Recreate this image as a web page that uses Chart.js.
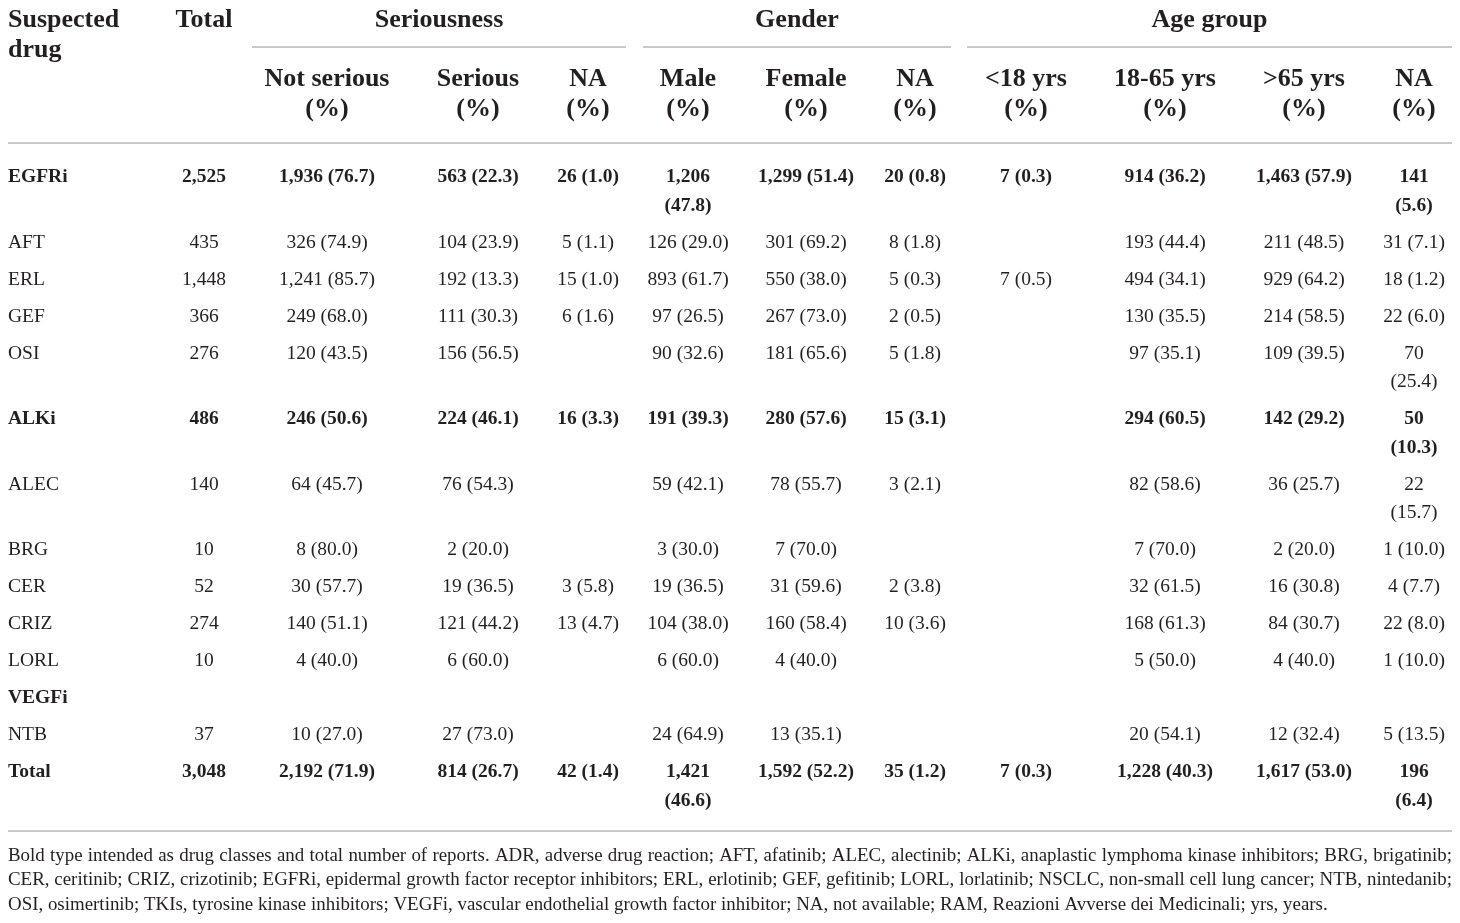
<!DOCTYPE html>
<html lang="en">
  <head>
    <meta charset="UTF-8" />
    <title>Suspected drug reports</title>
    <script src="https://cdn.jsdelivr.net/npm/chart.js@4"></script>
    <style>
      html, body { margin: 0; padding: 0; background: #fff; }
      canvas { display: block; }
    </style>
  </head>
  <body>
    <canvas id="tableChart" width="1460" height="923"></canvas>

    <script>
      // ---- table data ----
      const groupLabels = ["Seriousness", "Gender", "Age group"];
      const colLabels = [
        "Suspected drug", "Total",
        "Not serious (%)", "Serious (%)", "NA (%)",
        "Male (%)", "Female (%)", "NA (%)",
        "<18 yrs (%)", "18-65 yrs (%)", ">65 yrs (%)", "NA (%)",
      ];
      const drugs = ["EGFRi", "AFT", "ERL", "GEF", "OSI", "ALKi", "ALEC", "BRG", "CER", "CRIZ", "LORL", "VEGFi", "NTB", "Total"];
      const boldRow = [true, false, false, false, false, true, false, false, false, false, false, true, false, true];
      const totals = ["2,525", "435", "1,448", "366", "276", "486", "140", "10", "52", "274", "10", "", "37", "3,048"];
      const notSerious = ["1,936 (76.7)", "326 (74.9)", "1,241 (85.7)", "249 (68.0)", "120 (43.5)", "246 (50.6)", "64 (45.7)", "8 (80.0)", "30 (57.7)", "140 (51.1)", "4 (40.0)", "", "10 (27.0)", "2,192 (71.9)"];
      const serious = ["563 (22.3)", "104 (23.9)", "192 (13.3)", "111 (30.3)", "156 (56.5)", "224 (46.1)", "76 (54.3)", "2 (20.0)", "19 (36.5)", "121 (44.2)", "6 (60.0)", "", "27 (73.0)", "814 (26.7)"];
      const seriousNA = ["26 (1.0)", "5 (1.1)", "15 (1.0)", "6 (1.6)", "", "16 (3.3)", "", "", "3 (5.8)", "13 (4.7)", "", "", "", "42 (1.4)"];
      const male = ["1,206 (47.8)", "126 (29.0)", "893 (61.7)", "97 (26.5)", "90 (32.6)", "191 (39.3)", "59 (42.1)", "3 (30.0)", "19 (36.5)", "104 (38.0)", "6 (60.0)", "", "24 (64.9)", "1,421 (46.6)"];
      const female = ["1,299 (51.4)", "301 (69.2)", "550 (38.0)", "267 (73.0)", "181 (65.6)", "280 (57.6)", "78 (55.7)", "7 (70.0)", "31 (59.6)", "160 (58.4)", "4 (40.0)", "", "13 (35.1)", "1,592 (52.2)"];
      const genderNA = ["20 (0.8)", "8 (1.8)", "5 (0.3)", "2 (0.5)", "5 (1.8)", "15 (3.1)", "3 (2.1)", "", "2 (3.8)", "10 (3.6)", "", "", "", "35 (1.2)"];
      const ageUnder18 = ["7 (0.3)", "", "7 (0.5)", "", "", "", "", "", "", "", "", "", "", "7 (0.3)"];
      const age18to65 = ["914 (36.2)", "193 (44.4)", "494 (34.1)", "130 (35.5)", "97 (35.1)", "294 (60.5)", "82 (58.6)", "7 (70.0)", "32 (61.5)", "168 (61.3)", "5 (50.0)", "", "20 (54.1)", "1,228 (40.3)"];
      const ageOver65 = ["1,463 (57.9)", "211 (48.5)", "929 (64.2)", "214 (58.5)", "109 (39.5)", "142 (29.2)", "36 (25.7)", "2 (20.0)", "16 (30.8)", "84 (30.7)", "4 (40.0)", "", "12 (32.4)", "1,617 (53.0)"];
      const ageNA = ["141 (5.6)", "31 (7.1)", "18 (1.2)", "22 (6.0)", "70 (25.4)", "50 (10.3)", "22 (15.7)", "1 (10.0)", "4 (7.7)", "22 (8.0)", "1 (10.0)", "", "5 (13.5)", "196 (6.4)"];
      const footnoteLines = [
        "Bold type intended as drug classes and total number of reports. ADR, adverse drug reaction; AFT, afatinib; ALEC, alectinib; ALKi, anaplastic lymphoma kinase inhibitors; BRG, brigatinib;",
        "CER, ceritinib; CRIZ, crizotinib; EGFRi, epidermal growth factor receptor inhibitors; ERL, erlotinib; GEF, gefitinib; LORL, lorlatinib; NSCLC, non-small cell lung cancer; NTB, nintedanib;",
        "OSI, osimertinib; TKIs, tyrosine kinase inhibitors; VEGFi, vascular endothelial growth factor inhibitor; NA, not available; RAM, Reazioni Avverse dei Medicinali; yrs, years.",
      ];

      const columns = [drugs, totals, notSerious, serious, seriousNA, male, female, genderNA, ageUnder18, age18to65, ageOver65, ageNA];

      // ---- layout ----
      const W = 1460, H = 923;
      const FONT = '"Liberation Serif", "DejaVu Serif", serif';
      const TEXT = "#231f20";
      const RULE = "#c9c9c9";
      const LEFT = 8, RIGHT = 1452;
      const colCenter = [LEFT, 204, 327, 478, 588, 688, 806, 915, 1026, 1165, 1304, 1414];
      const colWrap = [140, 150, 200, 200, 200, 88, 200, 200, 200, 200, 200, 66];
      const groupSpan = [[252, 626], [643, 951], [967, RIGHT]];
      const headSize = 26, bodySize = 19.5;
      const headLine = 29.5, bodyLine = 28.5, rowGap = 8.5;
      const head1Base = 27, head2Base = 86, groupRuleY = 47, headRuleY = 143;
      const bodyBase = 182, bottomRuleY = 831, footBase = 861, footLine = 24.3;

      const measure = document.createElement("canvas").getContext("2d");
      function fontOf(size, bold) {
        return (bold ? "bold " : "") + size + "px " + FONT;
      }
      function wrap(text, size, bold, maxW) {
        measure.font = fontOf(size, bold);
        const words = text.split(" ");
        const lines = [];
        let cur = "";
        words.forEach((w) => {
          const test = cur ? cur + " " + w : w;
          if (cur && measure.measureText(test).width > maxW) {
            lines.push(cur);
            cur = w;
          } else {
            cur = test;
          }
        });
        if (cur) lines.push(cur);
        return lines;
      }

      // header cells
      const headCells = [];
      colLabels.forEach((label, c) => {
        const align = c === 0 ? "left" : "center";
        if (c < 2) {
          headCells.push({ x: colCenter[c], y: head1Base, lines: wrap(label, headSize, true, colWrap[c]), bold: true, size: headSize, lh: headLine, align });
        } else {
          const lines = [label.replace(" (%)", ""), "(%)"];
          headCells.push({ x: colCenter[c], y: head2Base, lines, bold: true, size: headSize, lh: headLine, align });
        }
      });
      groupLabels.forEach((label, g) => {
        const mid = (groupSpan[g][0] + groupSpan[g][1]) / 2;
        headCells.push({ x: mid, y: head1Base, lines: [label], bold: true, size: headSize, lh: headLine, align: "center" });
      });

      // body cells, row heights follow the tallest wrapped cell
      const bodyCells = [];
      let rowY = bodyBase;
      drugs.forEach((d, r) => {
        let maxLines = 1;
        columns.forEach((col, c) => {
          const text = col[r];
          if (!text) return;
          const lines = wrap(text, bodySize, boldRow[r], colWrap[c]);
          maxLines = Math.max(maxLines, lines.length);
          bodyCells.push({ x: colCenter[c], y: rowY, lines, bold: boldRow[r], size: bodySize, lh: bodyLine, align: c === 0 ? "left" : "center" });
        });
        rowY += maxLines * bodyLine + rowGap;
      });

      // footnote size fitted so the first justified line needs little stretching
      measure.font = fontOf(18, false);
      const footSize = Math.max(15, Math.min(19, 18 * (RIGHT - LEFT - 12) / measure.measureText(footnoteLines[0]).width));
      const footCells = footnoteLines.map((t, i) => ({
        x: LEFT, y: footBase + i * footLine, lines: [t], bold: false, size: footSize, lh: footLine,
        align: "left", justify: i < footnoteLines.length - 1 ? RIGHT - LEFT : 0,
      }));

      function rule(x1, x2, y) {
        return {
          type: "scatter", showLine: true, data: [{ x: x1, y }, { x: x2, y }],
          borderColor: RULE, borderWidth: 2, pointRadius: 0, clip: false,
        };
      }
      const rules = [
        ...groupSpan.map((s) => rule(s[0], s[1], groupRuleY)),
        rule(LEFT, RIGHT, headRuleY),
        rule(LEFT, RIGHT, bottomRuleY),
      ];

      function textSet(cells) {
        return { data: cells, pointRadius: 0, cellText: true, clip: false };
      }

      function drawJustified(ctx, text, x, y, width) {
        const words = text.split(" ");
        const total = words.reduce((s, w) => s + ctx.measureText(w).width, 0);
        const gap = (width - total) / (words.length - 1);
        let cx = x;
        words.forEach((w) => {
          ctx.fillText(w, cx, y);
          cx += ctx.measureText(w).width + gap;
        });
      }

      const cellTextPlugin = {
        id: "cellText",
        afterDatasetsDraw(chart) {
          const ctx = chart.ctx;
          chart.data.datasets.forEach((ds, di) => {
            if (!ds.cellText) return;
            const meta = chart.getDatasetMeta(di);
            meta.data.forEach((pt, i) => {
              const cell = ds.data[i];
              ctx.save();
              ctx.font = fontOf(cell.size, cell.bold);
              ctx.fillStyle = TEXT;
              ctx.textAlign = cell.align;
              ctx.textBaseline = "alphabetic";
              cell.lines.forEach((line, k) => {
                if (cell.justify) drawJustified(ctx, line, pt.x, pt.y + k * cell.lh, cell.justify);
                else ctx.fillText(line, pt.x, pt.y + k * cell.lh);
              });
              ctx.restore();
            });
          });
        },
      };

      new Chart(document.getElementById("tableChart"), {
        type: "scatter",
        data: { datasets: [...rules, textSet(headCells), textSet(bodyCells), textSet(footCells)] },
        options: {
          responsive: false,
          animation: false,
          events: [],
          devicePixelRatio: 1,
          layout: { padding: 0 },
          plugins: { legend: { display: false }, tooltip: { enabled: false } },
          scales: {
            x: { type: "linear", min: 0, max: W, display: false },
            y: { type: "linear", min: 0, max: H, reverse: true, display: false },
          },
        },
        plugins: [cellTextPlugin],
      });
    </script>
  </body>
</html>
